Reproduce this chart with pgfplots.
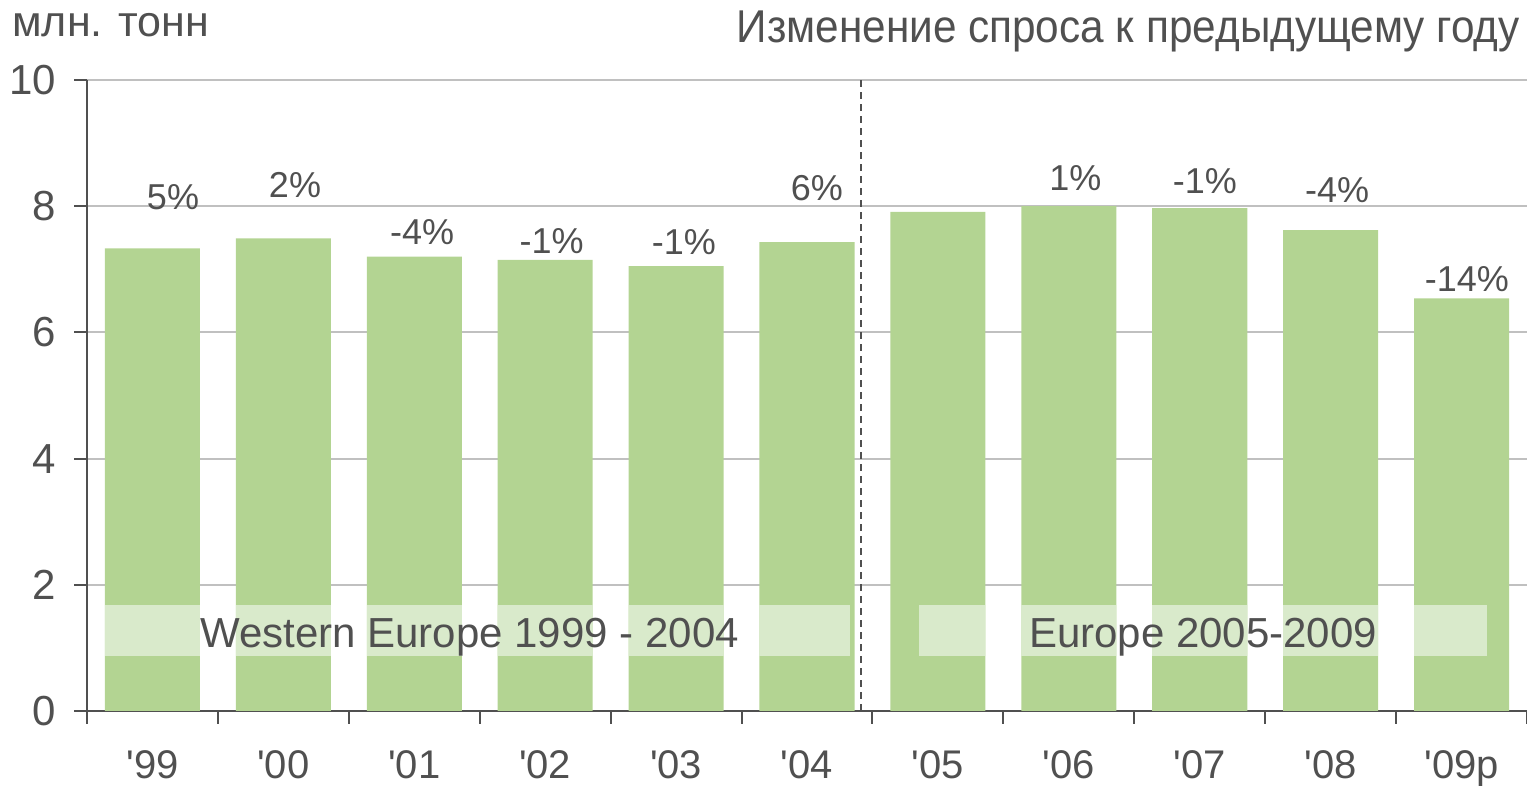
\documentclass[border=0pt]{standalone}
\usepackage{pgfplots}
\pgfplotsset{compat=1.18}
\usepackage{fontspec}
\setmainfont{Liberation Sans}
\definecolor{barg}{HTML}{B3D492}
\definecolor{bandg}{HTML}{D9EACB}
\definecolor{txt}{HTML}{505050}
\definecolor{grd}{HTML}{C0C0C0}
\begin{document}
\begin{tikzpicture}
\path[use as bounding box] (-43.5pt,-37.5pt) rectangle (720pt,355.5pt);
\begin{axis}[
 at={(0,0)}, anchor=south west,
 scale only axis, width=720pt, height=315.5pt,
 xmin=-0.5, xmax=10.5, ymin=0, ymax=10,
 axis lines=left, axis line style={-, draw=txt, line width=1pt},
 ytick={0,2,...,10}, xtick={0,...,10},
 xticklabels={\textquotesingle 99,\textquotesingle 00,\textquotesingle 01,\textquotesingle 02,\textquotesingle 03,\textquotesingle 04,\textquotesingle 05,\textquotesingle 06,\textquotesingle 07,\textquotesingle 08,\textquotesingle 09p},
 minor xtick={-0.5,0.5,...,10.5}, minor ytick={0,2,...,10},
 major tick length=0pt, minor tick length=6.5pt, tick align=outside,
 tick style={draw=txt, line width=1pt},
 ymajorgrids, grid style={draw=grd, line width=1pt},
 /pgf/number format/assume math mode=true,
 tick label style={font=\fontsize{21}{25}\selectfont, text=txt},
 yticklabel style={xshift=-12pt},
 xticklabel style={inner sep=0pt, yshift=-19.5pt, font=\fontsize{20}{24}\selectfont},
 clip=false,
]
\addplot[ybar, bar width=0.726, bar shift=0pt, fill=barg, draw=none]
 coordinates {(0,7.33)(1,7.49)(2,7.20)(3,7.15)(4,7.05)(5,7.43)(6,7.91)(7,8.00)(8,7.97)(9,7.62)(10,6.54)};
% lighter band across bars
\fill[bandg] (axis cs:-0.363,0.87) rectangle (axis cs:0.363,1.68);
\fill[bandg] (axis cs:0.637,0.87) rectangle (axis cs:1.363,1.68);
\fill[bandg] (axis cs:1.637,0.87) rectangle (axis cs:2.363,1.68);
\fill[bandg] (axis cs:2.637,0.87) rectangle (axis cs:3.363,1.68);
\fill[bandg] (axis cs:3.637,0.87) rectangle (axis cs:4.363,1.68);
\fill[bandg] (axis cs:4.637,0.87) rectangle (axis cs:5.329,1.68);
\fill[bandg] (axis cs:5.856,0.87) rectangle (axis cs:6.363,1.68);
\fill[bandg] (axis cs:6.637,0.87) rectangle (axis cs:7.363,1.68);
\fill[bandg] (axis cs:7.637,0.87) rectangle (axis cs:8.363,1.68);
\fill[bandg] (axis cs:8.637,0.87) rectangle (axis cs:9.363,1.68);
\fill[bandg] (axis cs:9.637,0.87) rectangle (axis cs:10.195,1.68);
\draw[txt, line width=0.9pt, dash pattern=on 3.5pt off 2.5pt] (axis cs:5.413,0) -- (axis cs:5.413,10);
\begin{scope}[every node/.style={text=txt, inner sep=0pt}]
\node[anchor=base, font=\fontsize{21}{25}\selectfont] at (axis cs:2.422,1.014) {Western Europe 1999 - 2004};
\node[anchor=base, font=\fontsize{21}{25}\selectfont] at (axis cs:8.026,1.014) {Europe 2005-2009};
\node[font=\fontsize{18}{22}\selectfont] at (axis cs:0.157,8.14) {5\%};
\node[font=\fontsize{18}{22}\selectfont] at (axis cs:1.089,8.33) {2\%};
\node[font=\fontsize{18}{22}\selectfont] at (axis cs:2.06,7.59) {-4\%};
\node[font=\fontsize{18}{22}\selectfont] at (axis cs:3.05,7.45) {-1\%};
\node[font=\fontsize{18}{22}\selectfont] at (axis cs:4.06,7.43) {-1\%};
\node[font=\fontsize{18}{22}\selectfont] at (axis cs:5.076,8.28) {6\%};
\node[font=\fontsize{18}{22}\selectfont] at (axis cs:7.05,8.45) {1\%};
\node[font=\fontsize{18}{22}\selectfont] at (axis cs:8.04,8.39) {-1\%};
\node[font=\fontsize{18}{22}\selectfont] at (axis cs:9.05,8.26) {-4\%};
\node[font=\fontsize{18}{22}\selectfont] at (axis cs:10.04,6.85) {-14\%};
\end{scope}
\end{axis}
\node[anchor=base west, inner sep=0pt, text=txt, font=\fontsize{21.5}{25}\selectfont] at (-37.5pt,337pt) {млн. тонн};
\node[anchor=base east, inner sep=0pt, text=txt, font=\fontsize{23}{27}\selectfont] at (716.5pt,334pt) {\scalebox{0.92}[1]{Изменение спроса к предыдущему году}};
\end{tikzpicture}
\end{document}
